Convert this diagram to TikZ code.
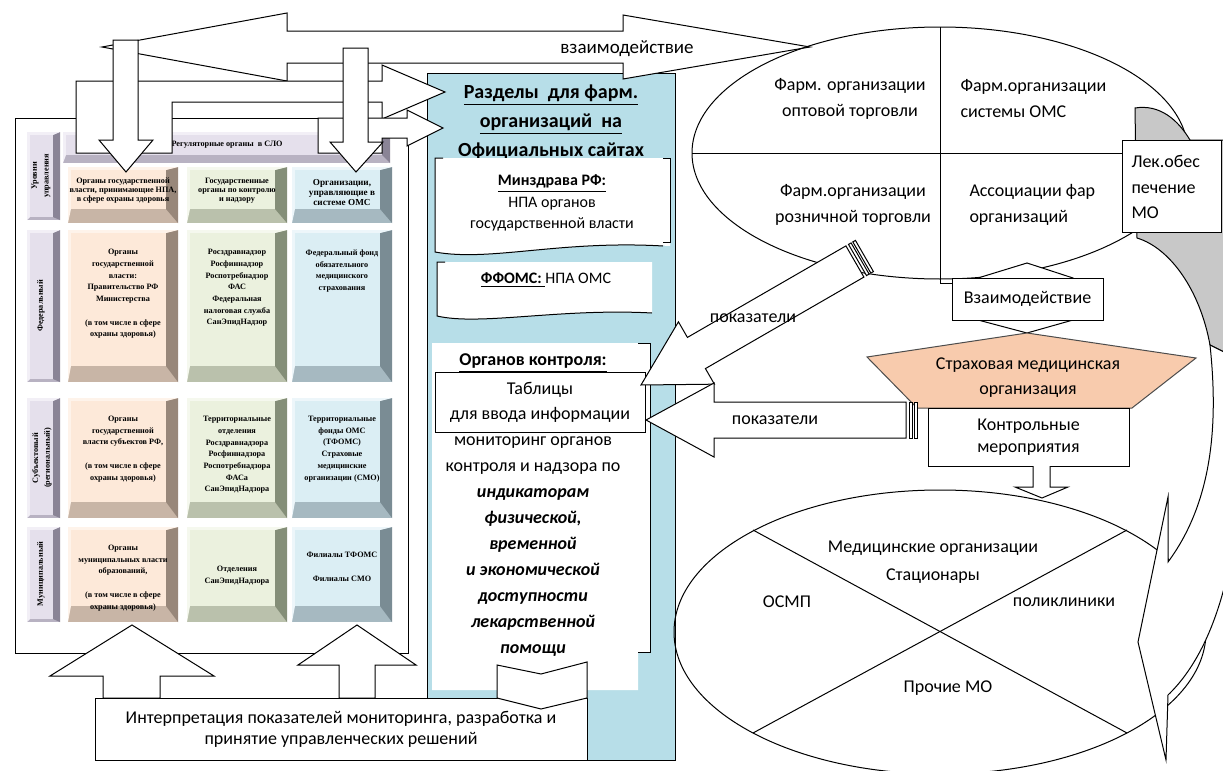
\documentclass[tikz,border=0pt]{standalone}
\usepackage{fontspec}
\setmainfont{Carlito}
\newfontfamily\tnr{Liberation Serif}

\definecolor{panelblue}{RGB}{183,222,232}
\definecolor{smofill}{RGB}{248,203,173}
\definecolor{bandgray}{RGB}{200,200,200}
% bevel colours: F face, L light edge, S side, B bottom
\definecolor{orF}{RGB}{253,233,217}
\definecolor{orL}{RGB}{254,243,234}
\definecolor{orS}{RGB}{152,135,122}
\definecolor{orB}{RGB}{200,181,166}
\definecolor{grF}{RGB}{235,241,222}
\definecolor{grL}{RGB}{245,248,238}
\definecolor{grS}{RGB}{132,142,120}
\definecolor{grB}{RGB}{186,193,172}
\definecolor{blF}{RGB}{219,238,244}
\definecolor{blL}{RGB}{237,246,250}
\definecolor{blS}{RGB}{122,140,148}
\definecolor{blB}{RGB}{166,185,193}
\definecolor{liF}{RGB}{229,224,236}
\definecolor{liL}{RGB}{242,239,246}
\definecolor{liS}{RGB}{138,132,150}
\definecolor{liB}{RGB}{184,178,194}

% x1 y1 x2 y2 colour side bottom
\newcommand{\bevelbox}[7]{%
  \fill[#5B] (#1,#2) rectangle (#3,#4);
  \fill[#5S] (#3,#2) -- (#3,#4) -- ({#3-#6},{#4-#7}) -- ({#3-#6},{#2+3}) -- cycle;
  \fill[#5L] (#1,#2) -- (#3,#2) -- ({#3-#6},{#2+3}) -- ({#1+3},{#2+3}) -- ({#1+3},{#4-#7}) -- (#1,#4) -- cycle;
  \fill[#5F] ({#1+3},{#2+3}) rectangle ({#3-#6},{#4-#7});
}

\tikzset{
  blk/.style={draw=black, fill=white, line width=0.5pt},
  txt/.style={font=\fontsize{9}{13}\selectfont, inner sep=0pt, align=center},
  box/.style={draw=black, fill=white, line width=0.5pt, inner sep=0pt, align=center, font=\fontsize{9}{11}\selectfont},
  grd/.style={font=\tnr\bfseries\fontsize{4.1}{5.85}\selectfont, inner sep=0pt, align=center},
  hdr/.style={font=\tnr\bfseries\fontsize{4.1}{4.5}\selectfont, inner sep=0pt, align=center},
  vlab/.style={grd, rotate=90},
}

\begin{document}
\begin{tikzpicture}[x=0.5pt, y=-0.5pt, line width=0.5pt]
\useasboundingbox (0,0) rectangle (1223,771);
\clip (0,0) rectangle (1223,771);
\fill[white] (0,0) rectangle (1223,771);

% blue panel
\draw[fill=panelblue] (427,73) rectangle (675,760);
\node[txt, font=\bfseries\fontsize{10}{14.5}\selectfont] (title) at (551,122)
  {\underline{Разделы\ \ для фарм.}\\\underline{организаций\ \ на}\\Официальных сайтах};

\fill[white] (435,158) -- (670,158) -- (670,246) .. controls (560,240) and (490,262) .. (435,252) -- cycle;
\draw (443,158) -- (435,158) -- (435,252) .. controls (490,262) and (560,240) .. (663,246);
\draw (663,158) -- (670,158) -- (670,242) -- (663,242);
\node[txt, font=\fontsize{8}{10.75}\selectfont] (minzdrav) at (552,203)
  {\underline{\textbf{Минздрава РФ:}}\\НПА органов\\государственной власти};

\fill[white] (437,262) -- (652,262) -- (652,313) .. controls (560,308) and (480,326) .. (437,316) -- cycle;
\draw (445,262) -- (437,262) -- (437,316) .. controls (480,326) and (560,308) .. (652,313);
\node[txt, font=\fontsize{8}{10.75}\selectfont] (ffoms) at (546,280) {\underline{\textbf{ФФОМС:}\ }НПА ОМС};

\fill[white] (432,343) -- (650,343) -- (650,652) -- (638,652) -- (638,690) -- (432,690) -- cycle;
\draw (638,343) -- (650,343) -- (650,652) -- (638,652);
\node[txt, font=\bfseries\fontsize{9}{13}\selectfont] (kontrol) at (533,363) {\underline{Органов контроля:}};
\node[box, minimum width=105pt, minimum height=30pt, font=\fontsize{9}{12.5}\selectfont] (tabl) at (540,402)
  {Таблицы\\для ввода информации};
\node[txt] (monitor) at (533,547) {мониторинг органов\\контроля и надзора по\\
  \textbf{\textit{индикаторам}}\\\textbf{\textit{физической,}}\\\textbf{\textit{временной}}\\
  \textbf{\textit{и экономической}}\\\textbf{\textit{доступности}}\\\textbf{\textit{лекарственной}}\\
  \textbf{\textit{помощи}}};

% left panel
\draw[fill=white] (15,118) rectangle (408,653);
\bevelbox{63}{132}{390}{163}{li}{8}{8}
\foreach \ya/\yb in {132/220, 230/382, 398/518, 527/622}
  {\bevelbox{27}{\ya}{60}{\yb}{li}{7}{3}}
\foreach \ya/\yb/\bb in {167/223/14, 230/382/16, 398/518/16, 527/622/16}
{
  \bevelbox{68}{\ya}{178}{\yb}{or}{12}{\bb}
  \bevelbox{187}{\ya}{287}{\yb}{gr}{12}{\bb}
  \bevelbox{292}{\ya}{392}{\yb}{bl}{12}{\bb}
}
\node[hdr] (reg) at (227,145) {Регуляторные органы\ \ в СЛО};
\node[vlab] (lv0) at (41,176) {Уровни\\управления};
\node[vlab] (lv1) at (41,306) {Федеральный};
\node[vlab] (lv2) at (42,458) {Субъектовый\\(региональный)};
\node[vlab] (lv3) at (41,574) {Муниципальный};

\node[hdr] (h1) at (123,191) {Органы государственной\\власти, принимающие НПА,\\в сфере охраны здоровья};
\node[hdr] (h2) at (237,191) {Государственные\\органы по контролю\\и надзору};
\node[hdr, font=\tnr\bfseries\fontsize{4.6}{5}\selectfont] (h3) at (342,192) {Организации,\\управляющие в\\системе ОМС};

\node[grd] (f1) at (123,294) {Органы\\государственной\\власти:\\Правительство РФ\\Министерства\\[5.85pt](в том числе в сфере\\охраны здоровья)};
\node[grd] (f2) at (237,288) {Росздравнадзор\\Росфиннадзор\\Роспотребнадзор\\ФАС\\Федеральная\\налоговая служба\\СанЭпидНадзор};
\node[grd] (f3) at (342,271) {Федеральный фонд\\обязательного\\медицинского\\страхования};

\node[grd] (s1) at (123,449) {Органы\\государственной\\власти субъектов РФ,\\[5.85pt](в том числе в сфере\\охраны здоровья)};
\node[grd] (s2) at (237,455) {Территориальные\\отделения\\Росздравнадзора\\Росфиннадзора\\Роспотребнадзора\\ФАСа\\СанЭпидНадзора};
\node[grd] (s3) at (342,449) {Территориальные\\фонды ОМС\\(ТФОМС)\\Страховые\\медицинские\\организации (СМО)};

\node[grd] (m1) at (123,578) {Органы\\муниципальных власти\\образований,\\[5.85pt](в том числе в сфере\\охраны здоровья)};
\node[grd] (m2) at (237,576) {Отделения\\СанЭпидНадзора};
\node[grd] (m3) at (342,567) {Филиалы ТФОМС\\[5.85pt]Филиалы СМО};

% block arrows on top
\draw[blk] (102,47) -- (287,13) -- (287,31) -- (623,31) -- (623,15) -- (810,47) -- (623,79)
  -- (623,63) -- (287,63) -- (287,81) -- cycle;
\node[txt, font=\fontsize{9.5}{12}\selectfont] (vzaim) at (627,49) {взаимодействие};

\draw[blk] (76,153) -- (76,81) -- (382,81) -- (382,65) -- (445,92) -- (382,119) -- (382,102)
  -- (172,102) -- (172,153) -- cycle;
\draw[blk] (318,153) -- (318,118) -- (407,118) -- (407,110) -- (443,128) -- (407,146) -- (407,138)
  -- (382,138) -- (382,153) -- cycle;

\draw[blk] (113,40) -- (138,40) -- (138,140) -- (153,140) -- (126,172) -- (99,140) -- (113,140) -- cycle;
\draw[blk] (343,48) -- (368,48) -- (368,142) -- (383,142) -- (356,172) -- (330,142) -- (343,142) -- cycle;

\draw[blk] (103,698) -- (103,676) -- (50,676) -- (132,625) -- (214,676) -- (160,676) -- (160,698) -- cycle;
\draw[blk] (339,698) -- (339,665) -- (298,665) -- (357,625) -- (416,665) -- (375,665) -- (375,698) -- cycle;

\node[box, minimum width=246pt, minimum height=31pt, font=\fontsize{9}{10.5}\selectfont] (interp) at (341,729)
  {Интерпретация показателей мониторинга, разработка и\\принятие управленческих решений};
\draw[blk] (497,665) -- (541,674) -- (587,662) -- (587,698) -- (541,709) -- (497,698) -- cycle;

% pharmacy ellipse
\draw (940,153) ellipse [x radius=124pt, y radius=63pt];
\draw (692,153) -- (1122,153);
\draw (940,27) -- (940,283) -- (952,283);
\node[txt] (opt) at (850,99) {Фарм. организации\\оптовой торговли};
\node[txt, anchor=west, align=left] (oms) at (960,99) {Фарм.организации\\системы ОМС};
\node[txt] (rozn) at (853,205) {Фарм.организации\\розничной торговли};
\node[txt, anchor=west, align=left] (assoc) at (969,205) {Ассоциации фар\\организаций};

\draw[fill=bandgray] (1135,108) .. controls (1160,104) and (1178,120) .. (1190,140) -- (1240,140)
  -- (1240,360) -- (1210,345) .. controls (1200,290) and (1170,248) .. (1137,238) -- cycle;
\node[box, minimum width=49.5pt, minimum height=46pt] (lek) at (1171.5,186) {};
\node[txt, anchor=west, align=left, font=\fontsize{9}{12.75}\selectfont] (lektxt) at (1131,187) {Лек.обес\\печение\\МО};

% striped arrow from the ellipse
\begin{scope}[shift={(641,385)}, rotate=30]
  \draw[blk] (0,0) -- (64,-36) -- (64,-18) -- (247,-18) -- (247,18) -- (64,18) -- (64,36) -- cycle;
  \foreach \s in {250,255} \draw[blk] (\s,-18) rectangle ++(3,36);
\end{scope}
\node[txt] (pok1) at (753,318) {показатели};

% insurance organisation
\draw[blk] (978,278) -- (1027,263) -- (1073,278) -- (1073,320) -- (1027,333) -- (978,320) -- cycle;
\node[box, minimum width=75.5pt, minimum height=21pt] (vzbox) at (1027.5,299) {Взаимодействие};
\draw[fill=smofill, draw=black!70] (1027,333) -- (1196,358) -- (1132,408) -- (917,408) -- (867,357) -- cycle;
\node[txt, font=\fontsize{9}{12.5}\selectfont] (smo) at (1028,378) {Страховая медицинская\\организация};
\node[box, minimum width=100.5pt, minimum height=29pt] (kmer) at (1028.5,437) {Контрольные\\мероприятия};
\draw[blk] (1033,466) -- (1033,487) -- (1015,487) -- (1042,498) -- (1068,487) -- (1050,487) -- (1050,466);

% medical organisations
\draw (940,632) ellipse [x radius=133pt, y radius=71pt];
\draw (753,530) -- (1127,733);
\draw (753,733) -- (1127,530);
\node[txt, font=\fontsize{9}{14}\selectfont] (medorg) at (933,562) {Медицинские организации\\Стационары};
\node[txt] (osmp) at (787,602) {ОСМП};
\node[txt] (polik) at (1064,602) {поликлиники};
\node[txt] (proch) at (948,688) {Прочие МО};

\draw[fill=white] (1210,345) .. controls (1218,420) and (1214,500) .. (1168,562) -- (1168,497) -- (1138,642)
  -- (1166,760) -- (1168,695) .. controls (1215,650) and (1240,560) .. (1240,450) -- (1240,360) -- cycle;

\begin{scope}[shift={(646,420)}]
  \draw[blk] (0,0) -- (68,-37) -- (68,-18) -- (260,-18) -- (260,18) -- (68,18) -- (68,37) -- cycle;
  \foreach \s in {263,268} \draw[blk] (\s,-18) rectangle ++(3,36);
\end{scope}
\node[txt] (pok2) at (775,420) {показатели};
\end{tikzpicture}
\end{document}
